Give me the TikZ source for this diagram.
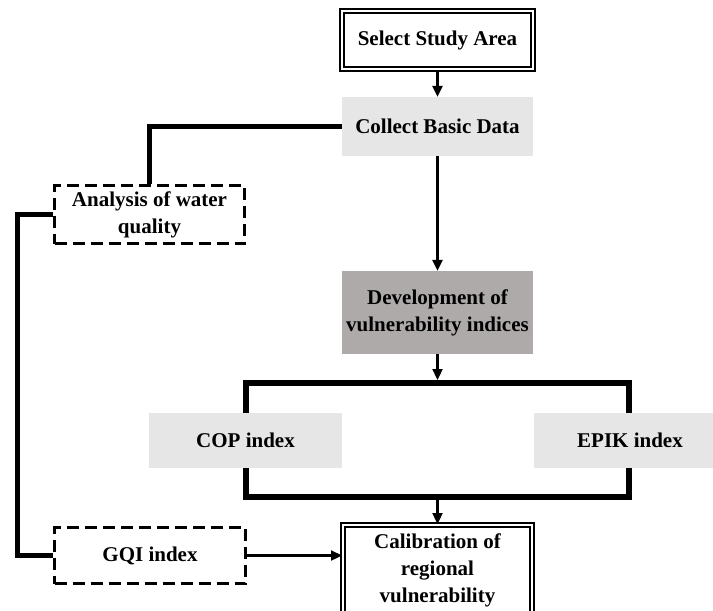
\documentclass[tikz,border=0pt]{standalone}
\usepackage{fontspec}
\setmainfont{Liberation Serif}
\usetikzlibrary{arrows.meta}
\definecolor{boxgray}{HTML}{E6E6E6}
\definecolor{devgray}{HTML}{AEAAAA}
\begin{document}
\begin{tikzpicture}[x=1pt, y=-1pt,
    box/.style={rectangle, inner sep=0pt, align=center, font=\fontsize{21}{27}\selectfont\bfseries},
    doublebox/.style={box, draw, double, line width=2pt, double distance=2pt, fill=white},
    greybox/.style={box, fill=boxgray},
    darkbox/.style={box, fill=devgray},
    dashbox/.style={box, draw, line width=3.5pt, dash pattern=on 12pt off 6pt},
    arrowline/.style={-{Triangle[length=11pt,width=10pt]}, line width=2.3pt},
    thickline/.style={line width=5pt},
    frameline/.style={line width=6pt}]

    \useasboundingbox (0,0) rectangle (713,611);

    \node [doublebox, minimum width=191pt, minimum height=58pt] (select) at (437.5,40) {Select Study Area};
    \node [greybox, minimum width=191pt, minimum height=59pt] (collect) at (437.5,126.5) {Collect Basic Data};
    \node [darkbox, minimum width=191pt, minimum height=83pt] (dev) at (437.5,312.5) {Development of\\vulnerability indices};
    \node [dashbox, minimum width=190pt, minimum height=58pt] (analysis) at (149.5,214.5) {Analysis of water\\quality};

    % frame round the two indices
    \coordinate (ftl) at (246,383);
    \coordinate (ftr) at (629,383);
    \coordinate (fbl) at (246,497);
    \coordinate (fbr) at (629,497);
    \coordinate (leftx) at (17.5,0);

    \node [greybox, minimum width=193pt, minimum height=55pt] (cop) at (245.5,440.5) {COP index};
    \node [greybox, minimum width=192pt, minimum height=55pt] (epik) at (630,440.5) {EPIK index};
    \node [dashbox, minimum width=191pt, minimum height=56pt] (gqi) at (150,555.5) {GQI index};
    \node [doublebox, minimum width=189pt, minimum height=90pt] (calib) at (437.5,570) {Calibration of\\regional\\vulnerability};

    \draw[frameline] (cop.north -| ftl) -- (ftl) -- (ftr) -- (epik.north -| ftr);
    \draw[frameline] (cop.south -| fbl) -- (fbl) -- (fbr) -- (epik.south -| fbr);

    \draw[arrowline] (select) -- (collect);
    \draw[arrowline] (collect) -- (dev);
    \draw[arrowline, shorten >=3pt] (dev.south) -- (dev.south |- ftl);
    \draw[arrowline] (calib.north |- fbl) -- (calib.north);
    \draw[arrowline] (gqi.east) -- (gqi.east -| calib.west);

    \draw[thickline] (collect.west) -| (analysis.north);
    \draw[thickline] (analysis.west) -- (analysis.west -| leftx) |- (gqi.west);

\end{tikzpicture}
\end{document}
